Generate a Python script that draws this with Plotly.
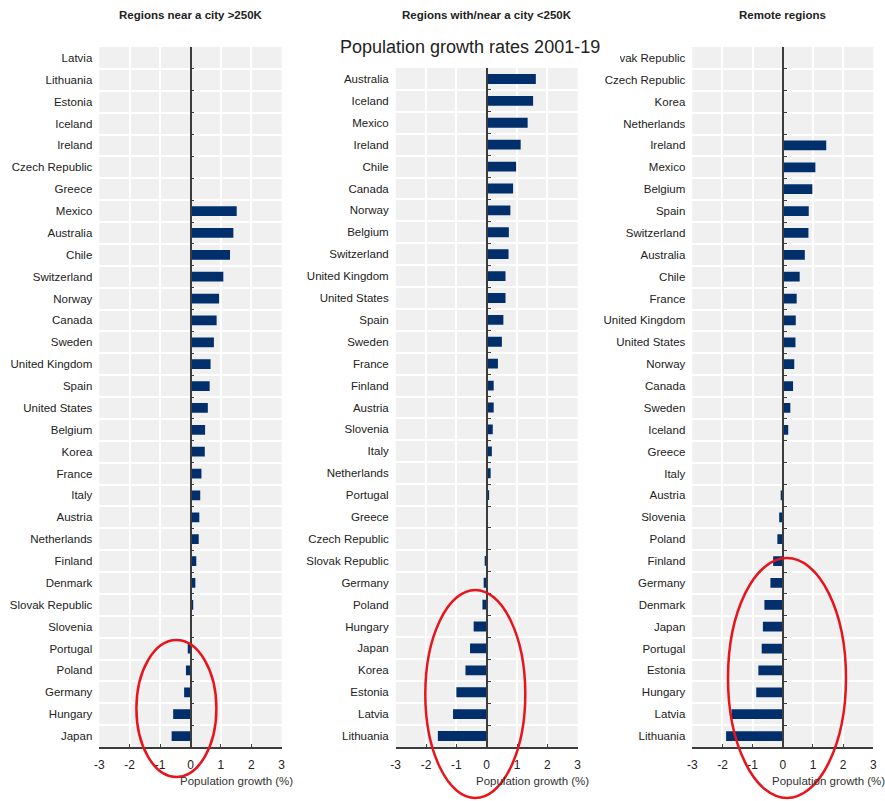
import plotly.graph_objects as go

# Population growth rates 2001-19 (% per year), by type of region
near_big_city_countries = [
    "Latvia", "Lithuania", "Estonia", "Iceland", "Ireland", "Czech Republic", "Greece",
    "Mexico", "Australia", "Chile", "Switzerland", "Norway", "Canada", "Sweden",
    "United Kingdom", "Spain", "United States", "Belgium", "Korea", "France", "Italy",
    "Austria", "Netherlands", "Finland", "Denmark", "Slovak Republic", "Slovenia",
    "Portugal", "Poland", "Germany", "Hungary", "Japan",
]
near_big_city_growth = [
    0, 0, 0, 0, 0, 0, 0,
    1.52, 1.41, 1.30, 1.08, 0.94, 0.86, 0.77,
    0.66, 0.63, 0.57, 0.48, 0.47, 0.36, 0.32,
    0.29, 0.27, 0.19, 0.16, 0.09, 0.02,
    -0.09, -0.15, -0.21, -0.57, -0.62,
]

small_city_countries = [
    "Australia", "Iceland", "Mexico", "Ireland", "Chile", "Canada", "Norway", "Belgium",
    "Switzerland", "United Kingdom", "United States", "Spain", "Sweden", "France",
    "Finland", "Austria", "Slovenia", "Italy", "Netherlands", "Portugal", "Greece",
    "Czech Republic", "Slovak Republic", "Germany", "Poland", "Hungary", "Japan",
    "Korea", "Estonia", "Latvia", "Lithuania",
]
small_city_growth = [
    1.62, 1.53, 1.35, 1.12, 0.97, 0.87, 0.78, 0.73,
    0.72, 0.62, 0.62, 0.55, 0.50, 0.37,
    0.23, 0.23, 0.20, 0.17, 0.13, 0.08, 0,
    0, -0.06, -0.10, -0.14, -0.43, -0.55,
    -0.70, -1.00, -1.11, -1.61,
]

remote_countries = [
    "Slovak Republic", "Czech Republic", "Korea", "Netherlands", "Ireland", "Mexico",
    "Belgium", "Spain", "Switzerland", "Australia", "Chile", "France", "United Kingdom",
    "United States", "Norway", "Canada", "Sweden", "Iceland", "Greece", "Italy",
    "Austria", "Slovenia", "Poland", "Finland", "Germany", "Denmark", "Japan",
    "Portugal", "Estonia", "Hungary", "Latvia", "Lithuania",
]
remote_growth = [
    0, 0, 0, 0, 1.44, 1.08,
    0.98, 0.86, 0.85, 0.73, 0.56, 0.46, 0.43,
    0.42, 0.38, 0.34, 0.25, 0.18, 0, 0,
    -0.07, -0.12, -0.18, -0.32, -0.41, -0.61, -0.66,
    -0.70, -0.81, -0.88, -1.70, -1.88,
]

panel_titles = ["Regions near a city >250K", "Regions with/near a city <250K", "Remote regions"]
main_title = "Population growth rates 2001-19"
x_title = "Population growth (%)"
x_ticks = [-3, -2, -1, 0, 1, 2, 3]

W, H = 885, 801
BAR = "#002F6C"
BG = "#F0F0F0"
AXIS = "#3C3C3C"
TXT = "#222222"
FONT = "Liberation Sans, Arial, sans-serif"


def px(x):
    return x / W


def py(y):
    return 1 - y / H


# pixel frames of each panel: (left, right, top, bottom)
frames = [(99.3, 281.7, 47, 747), (395.7, 577.7, 68, 747), (692.3, 873.3, 47, 747)]
panels = [
    (near_big_city_countries, near_big_city_growth),
    (small_city_countries, small_city_growth),
    (remote_countries, remote_growth),
]

fig = go.Figure()
layout = dict(
    width=W, height=H,
    margin=dict(l=0, r=0, t=0, b=0, autoexpand=False),
    paper_bgcolor="white",
    plot_bgcolor=BG,
    showlegend=False,
    font=dict(family=FONT, size=12, color=TXT),
    bargap=0.55,
)
annotations = []
shapes = []

for i, ((cats, vals), (l, r, t, b)) in enumerate(zip(panels, frames)):
    k = "" if i == 0 else str(i + 1)
    ov = str(i + 4)
    n = len(cats)
    fig.add_trace(go.Bar(
        x=vals, y=cats, orientation="h", marker=dict(color=BAR, line=dict(width=0)),
        xaxis="x" + k, yaxis="y" + k, hoverinfo="x+y",
    ))
    # empty trace that attaches the zero-line axis to the panel
    fig.add_trace(go.Scatter(
        x=[0], y=[0], mode="markers", marker=dict(opacity=0, size=1),
        xaxis="x" + k, yaxis="y" + ov, hoverinfo="skip",
    ))
    layout["xaxis" + k] = dict(
        domain=[px(l), px(r)], anchor="y" + k, range=[-3, 3],
        tickvals=x_ticks, ticktext=[str(v) for v in x_ticks],
        showgrid=True, gridcolor="white", gridwidth=1.5,
        zeroline=False, showline=True, linecolor=AXIS, linewidth=1.5,
        ticks="inside", ticklen=3, tickcolor=AXIS,
        tickfont=dict(size=12, color=TXT), ticklabelstandoff=6,
        fixedrange=True,
    )
    layout["yaxis" + k] = dict(
        domain=[py(b), py(t)], anchor="x" + k, type="category",
        categoryorder="array", categoryarray=cats, range=[n - 0.5, -0.5],
        tickson="boundaries", showgrid=True, gridcolor="white", gridwidth=1.5,
        ticks="", showline=False, zeroline=False,
        tickfont=dict(size=11.5, color=TXT), ticklabelstandoff=6,
        fixedrange=True,
    )
    # zero line with small ticks on the category boundaries
    zero_x = l + (r - l) / 2
    layout["yaxis" + ov] = dict(
        overlaying="y" + k, anchor="free", position=px(zero_x), side="left",
        range=[n - 0.5, -0.5], tickvals=[j - 0.5 for j in range(n + 1)],
        showticklabels=False, ticks="inside", ticklen=3, tickcolor=AXIS,
        showline=True, linecolor=AXIS, linewidth=1.8, showgrid=False, zeroline=False,
        fixedrange=True,
    )
    annotations.append(dict(
        text="<b>" + panel_titles[i] + "</b>", xref="paper", yref="paper",
        x=px(zero_x), y=py(15), xanchor="center", yanchor="middle", showarrow=False,
        font=dict(size=11.5, color=TXT),
    ))
    annotations.append(dict(
        text=x_title, xref="paper", yref="paper",
        x=px(zero_x + 46), y=py(781), xanchor="center", yanchor="middle", showarrow=False,
        font=dict(size=11.5, color="#333333"),
    ))

annotations.append(dict(
    text=main_title, xref="paper", yref="paper", x=px(470), y=py(47),
    xanchor="center", yanchor="middle", showarrow=False,
    font=dict(size=18, color=TXT),
))

# first label of the remote panel is cut off on its left
shapes.append(dict(type="rect", xref="paper", yref="paper", layer="above",
                   x0=px(602), x1=px(620), y0=py(67), y1=py(48),
                   fillcolor="white", line=dict(width=0)))

# red highlight ellipses round the declining regions
for cx, cy, rx, ry in [(176.4, 708.5, 40, 68.5), (475.3, 694, 50, 104), (787, 678, 59, 120)]:
    shapes.append(dict(type="circle", xref="paper", yref="paper", layer="above",
                       x0=px(cx - rx), x1=px(cx + rx), y0=py(cy + ry), y1=py(cy - ry),
                       line=dict(color="#E8141B", width=2.5)))

layout["annotations"] = annotations
layout["shapes"] = shapes
fig.update_layout(**layout)
fig.write_html("out.html")
